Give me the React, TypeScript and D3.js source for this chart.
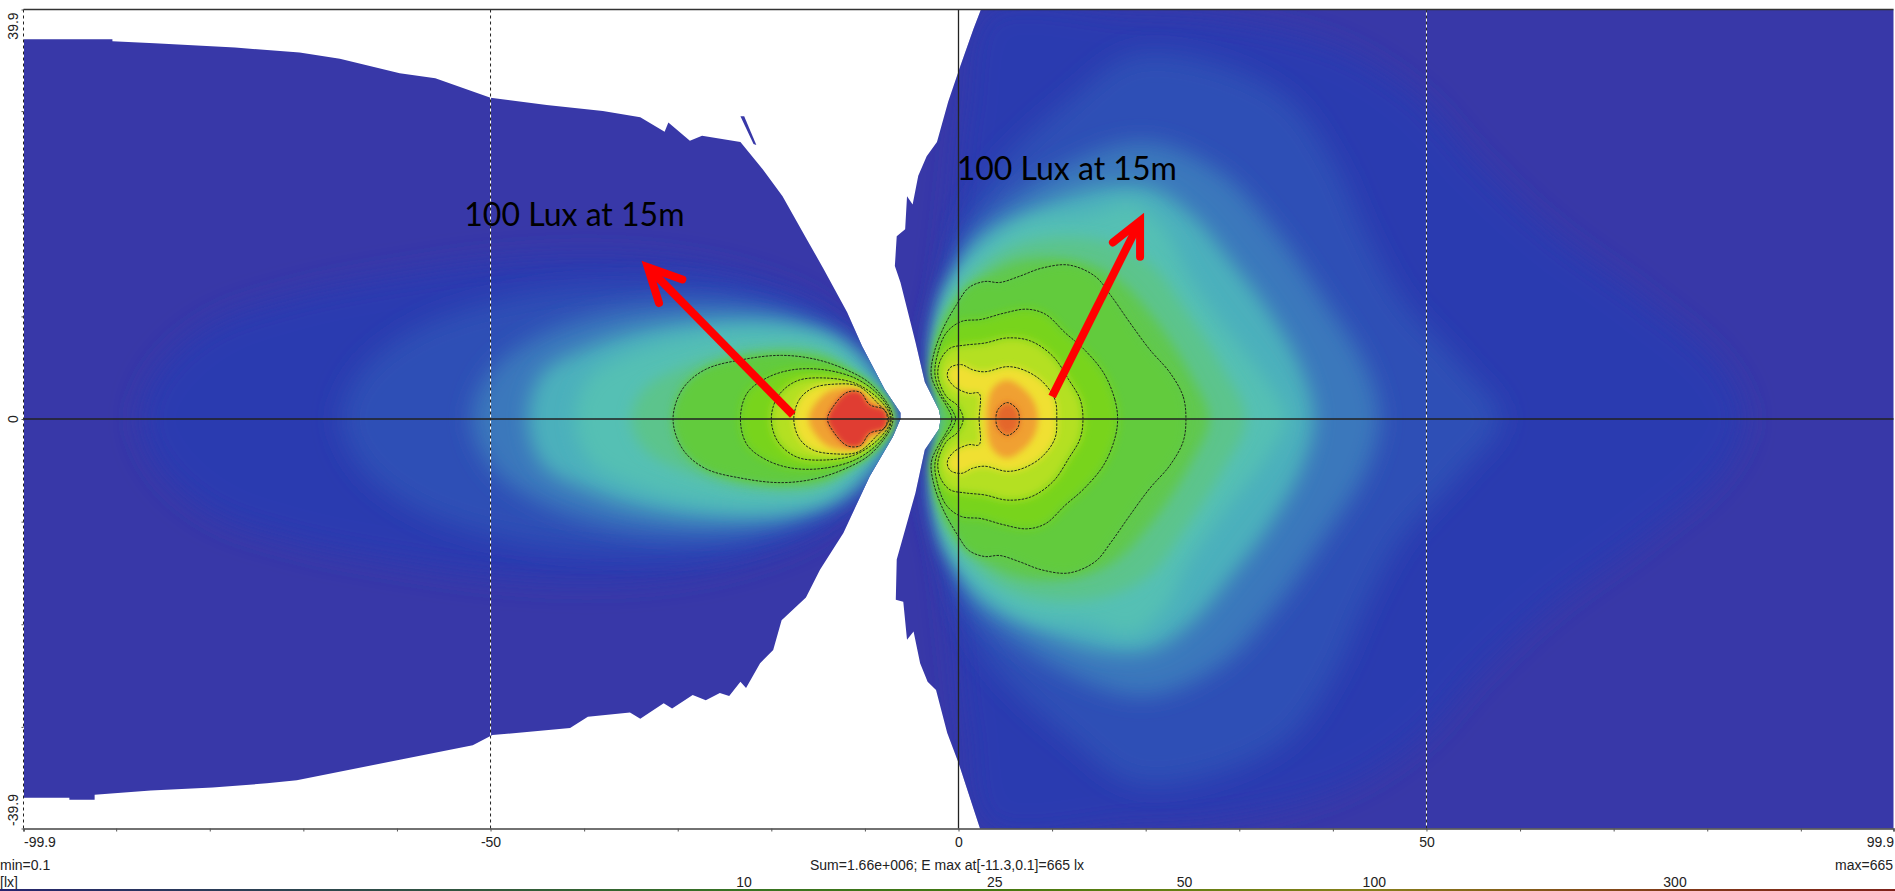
import { useEffect, useRef } from "react";
import * as d3 from "d3";

type Pt = [number, number];

const W = 1895;
const H = 891;

// lit area outline, metres
const leftLobeEdge: Pt[] = [
  [-99.9, 37], [-90.4, 37], [-90.4, 36.8], [-85.9, 36.6], [-77.3, 36.2], [-70.4, 35.7], [-66.1, 35.1],
  [-59.7, 33.7], [-55.9, 33.2], [-50, 31.3], [-44, 30.6], [-38, 30], [-34, 29.4], [-31.4, 28], [-31, 28.9],
  [-28.7, 27.1], [-27.4, 27.6], [-23.3, 27], [-20.9, 24.3], [-18.8, 21.7], [-16.2, 17.5], [-14.4, 14.6],
  [-11.9, 10.4], [-10.3, 7.1], [-7.9, 2.9], [-6.2, 0.6], [-6.2, 0], [-7, -1.7], [-9.5, -5.6], [-12.3, -11.1],
  [-14.8, -14.7], [-16.3, -17.4], [-18.9, -19.6], [-19.8, -22.5], [-21.2, -23.8], [-22.7, -26.2], [-23.3, -25.6],
  [-24.5, -27], [-25.5, -26.7], [-27, -27.4], [-28.4, -26.9], [-30.6, -28.2], [-31.5, -27.7], [-34, -29.2],
  [-35.1, -28.6], [-39.6, -29], [-41.5, -30.1], [-49.8, -30.8], [-51.9, -31.8], [-59.7, -33.2], [-70.7, -35.2],
  [-73.9, -35.5], [-79.7, -35.9], [-86.3, -36.2], [-92.3, -36.6], [-92.3, -37.1], [-95, -37.1], [-95, -36.9],
  [-99.9, -36.9],
];
const leftSliver: Pt[] = [[-23.3, 29.5], [-22.9, 29.5], [-21.6, 26.7], [-21.9, 26.8]];
const rightLobeEdge: Pt[] = [
  [2.4, 39.9], [1.6, 38], [0.2, 34.4], [-1.1, 30.9], [-2.3, 27], [-3.4, 25.6], [-4.3, 23.7], [-4.9, 20.9],
  [-5.5, 21.7], [-5.7, 18.5], [-6.6, 17.8], [-6.8, 14.9], [-6.2, 13.3], [-4.6, 7.5], [-3.6, 3.6], [-2.1, 0.9],
  [-1.9, 0], [-2.1, -1], [-3.6, -3], [-4.6, -7.2], [-6.6, -13.7], [-6.7, -17.6], [-5.9, -17.8], [-5.5, -21.5],
  [-4.8, -20.7], [-4.1, -23.8], [-3.3, -25.6], [-2.4, -26.4], [-1.2, -30.6], [0, -33.5], [2.3, -39.9],
  [99.9, -39.9], [99.9, 39.9],
];

// isolux outlines, upper half only, the plot is mirrored about y=0
const leftBands: { lux: number; pts: Pt[] }[] = [
  { lux: 0.9, pts: [[-87.4, 0], [-85.6, 4.5], [-80, 9.1], [-70.9, 12], [-60.5, 13.9], [-50, 15.3], [-39, 15.8], [-29.8, 15.2], [-21.8, 13.6], [-14.5, 10.7], [-9.6, 5.8], [-6.5, 0]] },
  { lux: 1.3, pts: [[-66, 0], [-64, 4.5], [-58, 8.8], [-48, 11.8], [-36, 13], [-26, 12.8], [-18, 11], [-13, 8.8], [-9, 5.2], [-6.5, 0]] },
  { lux: 2.5, pts: [[-52, 0], [-50, 4.6], [-45, 8], [-38, 10.2], [-30, 11.1], [-22, 10.8], [-15.5, 9], [-10.2, 5.8], [-6.5, 0]] },
  { lux: 3.8, pts: [[-46, 0], [-44.5, 4.4], [-40, 6.8], [-33, 8.8], [-25, 9.6], [-17.5, 9.2], [-11.4, 6.8], [-7.1, 0]] },
  { lux: 5, pts: [[-41, 0], [-39.5, 4], [-36, 6], [-30, 7.6], [-21, 8.4], [-13.2, 7.1], [-7.7, 0]] },
  { lux: 7, pts: [[-35, 0], [-33.5, 3], [-29.5, 5], [-22, 6.8], [-14.5, 6.4], [-8.4, 0]] },
  { lux: 9, pts: [[-29.8, 0], [-28.6, 3.2], [-24.9, 5.5], [-19.4, 6.3], [-13.2, 5.5], [-8.4, 0]] },
];
const rightBands: { lux: number; pts: Pt[] }[] = [
  { lux: 0.9, pts: [[84, 0], [81.5, 5.2], [73.2, 11.7], [63.5, 18.2], [55.8, 24.7], [49.3, 31.2], [41, 36], [28.1, 39], [18.4, 39.6], [3, 39.9], [0.5, 30], [-0.5, 22], [-1.5, 14], [-3, 6], [-1.5, 0]] },
  { lux: 1.3, pts: [[58, 0], [53.8, 5.2], [47.4, 11.7], [43.5, 18.2], [40.3, 24.7], [35.2, 31.2], [26.1, 35], [18.4, 35.4], [12, 31.2], [4.3, 24.7], [1, 19.8], [-1, 14], [-2.5, 7], [-1.5, 0]] },
  { lux: 2.5, pts: [[45, 0], [43.5, 5.2], [39, 11.7], [34, 18.2], [28, 24], [20, 27], [11, 24.5], [1.7, 18.2], [0.2, 14], [-1.8, 8], [-1.5, 0]] },
  { lux: 3.8, pts: [[38, 0], [36.5, 5.2], [33, 10.7], [29, 15.5], [25, 19.8], [20.5, 22.5], [15, 22.5], [7, 20], [1.7, 17], [-0.9, 13], [-2.2, 7], [-1.7, 0]] },
  { lux: 5, pts: [[35, 0], [33, 3.6], [28, 9.4], [24.5, 14], [22, 18.5], [18.5, 21], [14, 20], [6.8, 19], [1, 15], [-1.5, 12], [-2.5, 6], [-1.8, 0]] },
  { lux: 7, pts: [[30.7, 0], [28.1, 5.2], [24.2, 10.7], [20.4, 15.2], [14.6, 17.5], [6.2, 16.9], [0.4, 13], [-2.3, 8], [-1.8, 0]] },
  { lux: 9, pts: [[26.8, 0], [24.9, 4.2], [21, 9.7], [16.5, 14], [11.3, 15.6], [5.5, 15.2], [0.4, 12], [-2, 8], [-1.8, 0]] },
];

// the five dashed isolines of each lobe: 10, 25, 50, 100, 300 lx
const contourLux = [10, 25, 50, 100, 300];
const leftContours: Pt[][] = [
  [[-30.5, 0], [-29.5, 2.9], [-27.1, 4.8], [-23, 5.8], [-18.9, 6.2], [-15.2, 5.8], [-12, 4.8], [-9.5, 3.5], [-7.4, 1.2], [-7, 0]],
  [[-23.3, 0], [-22.6, 2.5], [-20.5, 4], [-17.7, 4.8], [-14.4, 4.8], [-11.1, 4], [-8.7, 2.5], [-7.4, 0.9], [-7.2, 0]],
  [[-20, 0], [-19.3, 2.2], [-17.3, 3.7], [-14.4, 4], [-11.1, 3.5], [-8.7, 2.1], [-7.4, 0.6], [-7.3, 0]],
  [[-17.6, 0], [-17, 1.9], [-15.6, 3], [-13.2, 3.4], [-10.7, 3.2], [-8.7, 1.6], [-7.5, 0.3], [-7.5, 0]],
  [[-14, 0], [-13.4, 1.2], [-11.9, 2.6], [-10.5, 2.6], [-9.5, 1.4], [-7.9, 0.9], [-7.6, 0]],
];
const rightContours: Pt[][] = [
  [[24.3, 0], [24, 2.2], [22.6, 4.5], [20.4, 6.8], [18.3, 9.4], [16.3, 12], [14.6, 13.9], [11.8, 15], [8.9, 14.7], [6.5, 13.9], [4.4, 13.3], [2.8, 13.4], [1.1, 12.8], [-0.1, 11.3], [-1.7, 8.7], [-2.7, 6.1], [-2.9, 4.2], [-2.1, 2.5], [-1.3, 1.3], [-0.7, 0]],
  [[17, 0], [16.7, 1.9], [15.5, 4.5], [13.4, 6.8], [11.4, 8.4], [9.3, 10.2], [7.3, 10.7], [4.8, 10.3], [2.4, 9.7], [0.3, 9.5], [-1.3, 8.4], [-2.3, 6.1], [-2.5, 4.2], [-1.7, 2.2], [-0.7, 0.9], [-0.3, 0]],
  [[13.3, 0], [13, 1.9], [11.8, 3.8], [10.1, 6.1], [7.7, 7.6], [5.2, 7.9], [2.8, 7.4], [0.7, 7.2], [-0.9, 6.9], [-1.9, 5.8], [-2.2, 4.2], [-1.3, 2.2], [-0.1, 1.3], [0.5, 0]],
  [[10.5, 0], [10.3, 1.9], [8.9, 3.7], [6.9, 4.8], [5.2, 5.1], [2.8, 4.6], [1.5, 4.8], [0.3, 5.3], [-0.9, 5], [-1.2, 4.2], [-0.5, 3.2], [1.1, 2.5], [2.2, 2.5], [2.2, 0]],
  [[6.5, 0], [6.3, 0.9], [5.2, 1.6], [4.2, 0.9], [4, 0]],
];
const leftOrange: Pt[] = [[-16, 0], [-15.2, 1.6], [-13.6, 2.8], [-11.5, 3], [-10, 2.3], [-8.2, 1.2], [-7.6, 0]];
const rightOrange: Pt[] = [[8.5, 0], [7.7, 2.2], [5.2, 3.8], [3.6, 2.9], [3, 0]];

// colour ramp
const rampLux = [0.75, 0.9, 1.3, 2.5, 3.8, 5, 7, 9, 10, 25, 50, 100, 180, 300, 450];
const rampColors = ["#3838a8", "#2a3ab0", "#2f50b6", "#3b78bc", "#4cb0bc", "#54c0b4", "#5cc48c", "#60c850", "#62cb3c", "#78d41c", "#b4e020", "#f0e030", "#f0a030", "#e4662c", "#e03c30"];

const xTicks = [-99.9, -90, -80, -70, -60, -50, -40, -30, -20, -10, 0, 10, 20, 30, 40, 50, 60, 70, 80, 90, 99.9];
const xLabels = [-99.9, -50, 0, 50, 99.9];
const yTicks = [-39.9, -30, -20, -10, 0, 10, 20, 30, 39.9];
const yLabels = [39.9, 0, -39.9];
const gridX = [-99.9, -50, 50];
const legendTicks = [10, 25, 50, 100, 300];

const notes = [
  { text: "100 Lux at 15m", at: [-52.8, 18.8] as Pt },
  { text: "100 Lux at 15m", at: [-0.2, 23.3] as Pt },
];
const arrows: { from: Pt; tip: Pt; barbA: Pt; barbB: Pt }[] = [
  { from: [-17.7, 0.4], tip: [-33.2, 14.8], barbA: [-29.5, 13.6], barbB: [-32, 11.3] },
  { from: [10, 2.2], tip: [19.4, 19.3], barbA: [16.5, 17.2], barbB: [19.4, 15.8] },
];

const x = d3.scaleLinear().domain([-99.9, 99.9]).range([23.5, 1893.5]);
const y = d3.scaleLinear().domain([-39.9, 39.9]).range([828.5, 9.5]);
const color = d3.scaleLog<string>().domain(rampLux).range(rampColors);
const blur = d3.scaleLog().domain([0.9, 5, 10, 300]).range([14, 9, 5, 3]);
const legendX = d3.scaleLog().domain([10, 300]).range([744, 1675]);

const mirror = (half: Pt[]): Pt[] => [...half, ...half.slice(1, -1).reverse().map(([a, b]) => [a, -b] as Pt)];

const smooth = d3.line<Pt>().x((d) => x(d[0])).y((d) => y(d[1])).curve(d3.curveCatmullRomClosed.alpha(0.5));
const poly = d3.line<Pt>().x((d) => x(d[0])).y((d) => y(d[1])).curve(d3.curveLinearClosed);
const open = d3.line<Pt>().x((d) => x(d[0])).y((d) => y(d[1]));

function Lobe({ id, edge, extra, bands, contours, orange, peak }: { id: string; edge: Pt[]; extra?: Pt[]; bands: { lux: number; pts: Pt[] }[]; contours: Pt[][]; orange: Pt[]; peak: number }) {
  const fills = [
    ...bands,
    ...contours.slice(0, 4).map((pts, i) => ({ lux: contourLux[i], pts })),
    { lux: 180, pts: orange },
    { lux: peak, pts: contours[4] },
  ];
  return (
    <g>
      <clipPath id={id}>
        <path d={poly(edge) ?? ""} />
      </clipPath>
      <path d={poly(edge) ?? ""} fill={rampColors[0]} />
      {extra && <path d={poly(extra) ?? ""} fill={rampColors[0]} />}
      <g clipPath={`url(#${id})`}>
        {fills.map((b, i) => (
          <path
            key={i}
            d={smooth(mirror(b.pts)) ?? ""}
            fill={color(b.lux)}
            filter={`url(#blur-${Math.round(blur(b.lux) * 10)})`}
          />
        ))}
      </g>
      {contours.map((c, i) => (
        <path key={i} d={smooth(mirror(c)) ?? ""} fill="none" stroke="#1c2a1c" strokeWidth={1} strokeDasharray="2.5 1.2" />
      ))}
    </g>
  );
}

export default function App() {
  const xAxisRef = useRef<SVGGElement | null>(null);
  const yAxisRef = useRef<SVGGElement | null>(null);

  useEffect(() => {
    if (!xAxisRef.current || !yAxisRef.current) return;

    const xAxis = d3
      .axisBottom(x)
      .tickValues(xTicks)
      .tickSize(3)
      .tickFormat((d) => (xLabels.includes(+d) ? String(+d) : ""));
    const xg = d3.select(xAxisRef.current).call(xAxis as any);
    xg.select(".domain").attr("stroke", "#444").attr("stroke-width", 1.5);
    xg.selectAll(".tick line").attr("stroke", "#555");
    xg.selectAll<SVGTextElement, number>(".tick text")
      .attr("font-family", "'Liberation Sans', Arial, sans-serif")
      .attr("font-size", 14)
      .attr("fill", "#222")
      .attr("y", 18)
      .attr("dy", 0)
      .attr("text-anchor", (d) => (d === -99.9 ? "start" : d === 99.9 ? "end" : "middle"));

    const yAxis = d3.axisLeft(y).tickValues(yTicks).tickSize(2).tickFormat(() => "");
    const yg = d3.select(yAxisRef.current).call(yAxis as any);
    yg.select(".domain").remove();
    yg.selectAll(".tick line").attr("stroke", "#555");
  }, []);

  const blurs = Array.from(new Set(rampLux.slice(1).map((l) => Math.round(blur(l) * 10))));

  return (
    <svg width={W} height={H} viewBox={`0 0 ${W} ${H}`} style={{ position: "fixed", left: 0, top: 0, display: "block", background: "#fff" }}>
      <defs>
        {blurs.map((b) => (
          <filter key={b} id={`blur-${b}`} filterUnits="userSpaceOnUse" x={0} y={0} width={W} height={H}>
            <feGaussianBlur stdDeviation={b / 10} />
          </filter>
        ))}
        <linearGradient id="legend-strip" gradientUnits="userSpaceOnUse" x1={0} x2={W} y1={0} y2={0}>
          <stop offset={0} stopColor={d3.color(rampColors[0])!.darker(1.2).formatHex()} />
          {legendTicks.map((t) => (
            <stop key={t} offset={legendX(t) / W} stopColor={d3.color(color(t))!.darker(1.6).formatHex()} />
          ))}
          <stop offset={1} stopColor={d3.color(color(450))!.darker(1.6).formatHex()} />
        </linearGradient>
      </defs>

      <Lobe id="left-lobe" edge={leftLobeEdge} extra={leftSliver} bands={leftBands} contours={leftContours} orange={leftOrange} peak={450} />
      <Lobe id="right-lobe" edge={rightLobeEdge} bands={rightBands} contours={rightContours} orange={rightOrange} peak={300} />

      {/* grid */}
      {gridX.map((g) => (
        <g key={g}>
          <line x1={x(g)} x2={x(g)} y1={y(39.9)} y2={y(-39.9)} stroke="#fff" />
          <line x1={x(g)} x2={x(g)} y1={y(39.9)} y2={y(-39.9)} stroke="#222" strokeDasharray="3 3" />
        </g>
      ))}
      <line x1={x(0)} x2={x(0)} y1={y(39.9)} y2={y(-39.9)} stroke="#222" strokeWidth={1.3} />
      <line x1={x(-99.9)} x2={x(99.9)} y1={y(0)} y2={y(0)} stroke="#222" strokeWidth={1.3} />
      <line x1={x(-99.9)} x2={x(99.9)} y1={y(39.9)} y2={y(39.9)} stroke="#333" strokeWidth={1.5} />

      <g ref={xAxisRef} transform={`translate(0,${y(-39.9)})`} />
      <g ref={yAxisRef} transform={`translate(${x(-99.9)},0)`} />

      {yLabels.map((v, i) => (
        <text
          key={v}
          transform={`translate(18,${i === 0 ? 26 : i === 1 ? y(0) : 810}) rotate(-90)`}
          textAnchor="middle"
          fontFamily="'Liberation Sans', Arial, sans-serif"
          fontSize={14}
          fill="#222"
        >
          {v}
        </text>
      ))}

      {/* annotations */}
      {arrows.map((a, i) => (
        <g key={i} fill="none" stroke="#ff0000" strokeWidth={8} strokeLinecap="round" strokeLinejoin="miter">
          <path d={open([a.from, a.tip]) ?? ""} strokeLinecap="butt" />
          <path d={open([a.barbA, a.tip, a.barbB]) ?? ""} />
        </g>
      ))}
      {notes.map((n, i) => (
        <text key={i} x={x(n.at[0])} y={y(n.at[1])} fontFamily="Lato, 'Open Sans', sans-serif" fontSize={32} fill="#000">
          {n.text}
        </text>
      ))}

      {/* footer */}
      <g fontFamily="'Liberation Sans', Arial, sans-serif" fontSize={14} fill="#222">
        <text x={0} y={870}>min=0.1</text>
        <text x={0} y={887}>[lx]</text>
        <text x={947} y={870} textAnchor="middle">Sum=1.66e+006; E max at[-11.3,0.1]=665 lx</text>
        <text x={1893} y={870} textAnchor="end">max=665</text>
        {legendTicks.map((t) => (
          <text key={t} x={legendX(t)} y={887} textAnchor="middle">
            {t}
          </text>
        ))}
      </g>
      <rect x={0} y={889} width={W} height={2} fill="url(#legend-strip)" />
    </svg>
  );
}
